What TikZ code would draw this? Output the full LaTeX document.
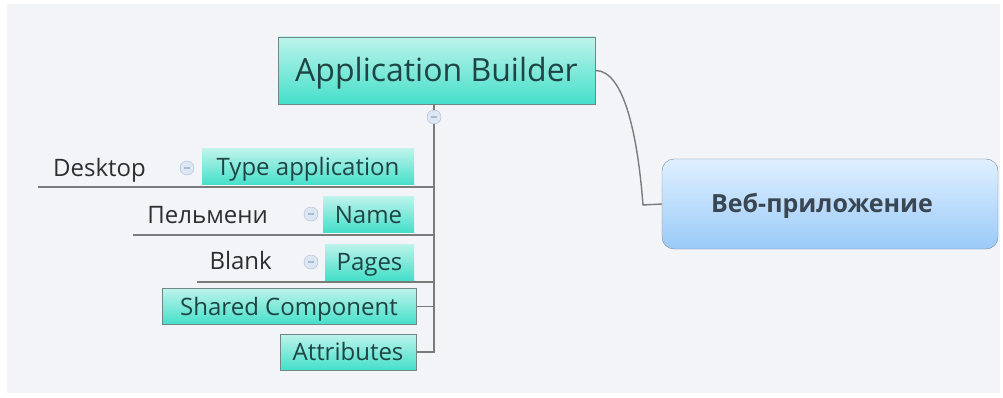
\documentclass[tikz,border=0pt]{standalone}
\usepackage{fontspec}
\setmainfont{Open Sans}
\usetikzlibrary{positioning}
\definecolor{canvas}{HTML}{F3F4F8}
\definecolor{tealtop}{HTML}{BDF3EB}
\definecolor{tealbot}{HTML}{44DFC9}
\definecolor{tealline}{HTML}{6F8886}
\definecolor{tealtext}{HTML}{1F4443}
\definecolor{bluetop}{HTML}{DFF0FF}
\definecolor{bluebot}{HTML}{9ACAF8}
\definecolor{blueline}{HTML}{7C8A96}
\definecolor{bluetext}{HTML}{3A4753}
\definecolor{wire}{HTML}{7B7B7B}
\definecolor{labeltext}{HTML}{2E2E2E}
\definecolor{togglefill}{HTML}{DDE6F3}
\definecolor{toggleline}{HTML}{A9B9D2}
\tikzset{%
    teal/.style={%
        top color=tealtop,
        bottom color=tealbot,
        text=tealtext,
        inner sep=0pt,
    },
    topic/.style={%
        teal,
        draw=tealline,
        font=\fontsize{32}{36}\selectfont,
        text height=30pt,
        text depth=7pt,
    },
    subtopic/.style={%
        teal,
        font=\fontsize{24}{28}\selectfont,
        minimum height=36pt,
        text height=22pt,
        text depth=5pt,
    },
    framed/.style={%
        subtopic,
        draw=tealline,
    },
    leaf/.style={%
        anchor=east,
        inner sep=0pt,
        text=labeltext,
        font=\fontsize{24}{28}\selectfont,
        text height=23pt,
        text depth=5pt,
    },
    central/.style={%
        draw=blueline,
        top color=bluetop,
        bottom color=bluebot,
        rounded corners=12pt,
        text=bluetext,
        font=\fontsize{25}{28}\selectfont\bfseries,
        text height=22pt,
        text depth=6pt,
    },
    toggle/.style={%
        circle,
        draw=toggleline,
        fill=togglefill,
        inner sep=0pt,
        minimum size=14pt,
        path picture={%
            \draw[toggleline, line width=1.2pt]
                ([xshift=-3pt] path picture bounding box.center) -- ++(6pt, 0);
        },
    },
    branch/.style={%
        draw=wire,
        line width=1.4pt,
    },
}

\begin{document}
\begin{tikzpicture}[x=1pt, y=-1pt]

    %%%%%%%%%%%%%%
    % Background %
    %%%%%%%%%%%%%%
    \useasboundingbox (0, 0) rectangle (1003, 398);
    \fill[white] (0, 0) rectangle (1003, 398);
    \fill[canvas] (7, 4) rectangle (1000, 393);

    %%%%%%%%%%
    % Topics %
    %%%%%%%%%%
    \node[topic, minimum width=317pt, minimum height=67pt]
        (appbuilder) at (436.5, 70.5) {Application Builder};
    \node[central, minimum width=336pt, minimum height=90pt]
        (webapp) at (830, 204) {Веб-приложение\kern16pt};

    \coordinate (bend) at (643, 205);
    \draw[branch] (appbuilder.east)
        .. controls (625, 70) and (638, 140) .. (bend) -- (webapp.west);

    %%%%%%%%%%%%%%
    % Subtopics %
    %%%%%%%%%%%%%%
    \node[subtopic, minimum width=212pt] (typeapp) at (308, 167) {Type application};
    \node[subtopic, minimum width=91pt] (name) at (368.5, 214.5) {Name};
    \node[subtopic, minimum width=89pt] (pages) at (369.5, 262) {Pages};
    \node[framed, minimum width=254pt] (shared) at (289, 306.5) {Shared Component};
    \node[framed, minimum width=136pt] (attrs) at (348, 352) {Attributes};

    % Values
    \node[leaf] (desktop) at (146, 168) {Desktop};
    \node[leaf] (pelmeni) at (268, 214) {Пельмени};
    \node[leaf] (blank) at (272, 260) {Blank};

    % Toggles
    \node[toggle] (t-main) at (434, 117) {};
    \node[toggle] (t-typeapp) at (187, 168) {};
    \node[toggle] (t-name) at (311, 214) {};
    \node[toggle] (t-pages) at (311, 262) {};

    %%%%%%%%%%%%
    % Branches %
    %%%%%%%%%%%%
    \draw[branch] (appbuilder.south -| t-main) -- (t-main.north);
    \draw[branch] (t-main.south) |- (attrs.east);
    \draw[branch] (shared.east) -- (shared.east -| t-main);

    \coordinate (typeapp-end) at (38, 187);
    \coordinate (name-end) at (133, 235);
    \coordinate (pages-end) at (197, 282);
    \foreach \tail in {typeapp-end, name-end, pages-end}{%
        \draw[branch, line width=1.2pt] (\tail) -- (\tail -| t-main);
    };

\end{tikzpicture}
\end{document}
